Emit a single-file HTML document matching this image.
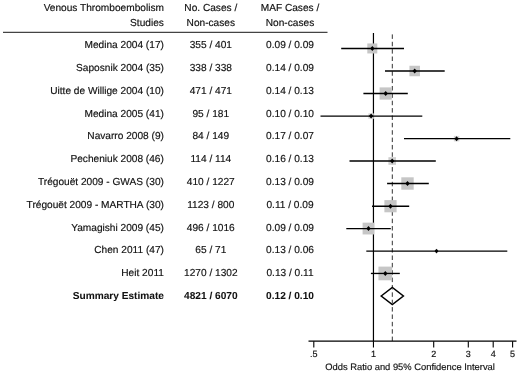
<!DOCTYPE html>
<html><head><meta charset="utf-8"><title>Forest plot</title>
<style>
html,body{margin:0;padding:0;background:#fff;}
body{width:520px;height:373px;overflow:hidden;}
svg{display:block;filter:grayscale(1);}
text{font-family:"Liberation Sans",sans-serif;font-size:10.15px;fill:#111;stroke:#111;stroke-width:0.16px;text-rendering:geometricPrecision;}
.b{font-weight:bold;stroke-width:0.06px;}
.e{text-anchor:end;}
.m{text-anchor:middle;}
</style></head><body>
<svg width="520" height="373" viewBox="0 0 520 373">
<rect width="520" height="373" fill="#fff"/>
<text class="e" x="163.9" y="11">Venous Thromboembolism</text>
<text class="e" x="163.9" y="26">Studies</text>
<text class="m" x="210.8" y="11">No. Cases /</text>
<text class="m" x="210.8" y="26">Non-cases</text>
<text class="m" x="290.0" y="11">MAF Cases /</text>
<text class="m" x="290.0" y="26">Non-cases</text>
<line x1="3" y1="32.3" x2="327.5" y2="32.3" stroke="#444" stroke-width="1.2"/>
<line x1="373.45" y1="33" x2="373.45" y2="341.5" stroke="#000" stroke-width="1.2"/>
<line x1="392.3" y1="34.4" x2="392.3" y2="341.5" stroke="#333" stroke-width="1" stroke-dasharray="4.5 2.87"/>
<line x1="308.5" y1="341.2" x2="516.5" y2="341.2" stroke="#000" stroke-width="1.2"/>
<line x1="313.8" y1="341.2" x2="313.8" y2="347.6" stroke="#000" stroke-width="1.1"/>
<text class="m" x="313.8" y="357" style="font-size:9px">.5</text>
<line x1="373.45" y1="341.2" x2="373.45" y2="347.6" stroke="#000" stroke-width="1.1"/>
<text class="m" x="373.45" y="357" style="font-size:9px">1</text>
<line x1="433.7" y1="341.2" x2="433.7" y2="347.6" stroke="#000" stroke-width="1.1"/>
<text class="m" x="433.7" y="357" style="font-size:9px">2</text>
<line x1="468.3" y1="341.2" x2="468.3" y2="347.6" stroke="#000" stroke-width="1.1"/>
<text class="m" x="468.3" y="357" style="font-size:9px">3</text>
<line x1="493.2" y1="341.2" x2="493.2" y2="347.6" stroke="#000" stroke-width="1.1"/>
<text class="m" x="493.2" y="357" style="font-size:9px">4</text>
<line x1="512.6" y1="341.2" x2="512.6" y2="347.6" stroke="#000" stroke-width="1.1"/>
<text class="m" x="512.6" y="357" style="font-size:9px">5</text>
<text class="m" x="410.1" y="370" style="font-size:9.37px">Odds Ratio and 95% Confidence Interval</text>
<text class="e" x="163.9" y="48">Medina 2004 (17)</text>
<text class="m" x="210.8" y="48">355 / 401</text>
<text class="m" x="290.0" y="48">0.09 / 0.09</text>
<rect x="367.30" y="43.45" width="10.0" height="10.0" fill="#c6c6c6"/>
<line x1="341.2" y1="48.45" x2="404.0" y2="48.45" stroke="#000" stroke-width="1.35"/>
<path d="M370.10 48.45 L372.30 45.95 L374.50 48.45 L372.30 50.95Z" fill="#000"/>
<text class="e" x="163.9" y="71">Saposnik 2004 (35)</text>
<text class="m" x="210.8" y="71">338 / 338</text>
<text class="m" x="290.0" y="71">0.14 / 0.09</text>
<rect x="409.45" y="65.75" width="10.5" height="10.5" fill="#c6c6c6"/>
<line x1="385.0" y1="71.00" x2="444.7" y2="71.00" stroke="#000" stroke-width="1.35"/>
<path d="M412.50 71.00 L414.70 68.50 L416.90 71.00 L414.70 73.50Z" fill="#000"/>
<text class="e" x="163.9" y="94">Uitte de Willige 2004 (10)</text>
<text class="m" x="210.8" y="94">471 / 471</text>
<text class="m" x="290.0" y="94">0.14 / 0.13</text>
<rect x="379.60" y="87.40" width="12.2" height="12.2" fill="#c6c6c6"/>
<line x1="363.4" y1="93.50" x2="407.8" y2="93.50" stroke="#000" stroke-width="1.35"/>
<path d="M383.50 93.50 L385.70 91.00 L387.90 93.50 L385.70 96.00Z" fill="#000"/>
<text class="e" x="163.9" y="117">Medina 2005 (41)</text>
<text class="m" x="210.8" y="117">95 / 181</text>
<text class="m" x="290.0" y="117">0.10 / 0.10</text>
<rect x="368.35" y="113.35" width="5.5" height="5.5" fill="#d6d6d6"/>
<line x1="320.5" y1="116.10" x2="422.3" y2="116.10" stroke="#000" stroke-width="1.35"/>
<path d="M368.90 116.10 L371.10 113.60 L373.30 116.10 L371.10 118.60Z" fill="#000"/>
<text class="e" x="163.9" y="139">Navarro 2008 (9)</text>
<text class="m" x="210.8" y="139">84 / 149</text>
<text class="m" x="290.0" y="139">0.17 / 0.07</text>
<rect x="453.85" y="135.90" width="5.5" height="5.5" fill="#d6d6d6"/>
<line x1="404.0" y1="138.65" x2="510.3" y2="138.65" stroke="#000" stroke-width="1.35"/>
<path d="M454.40 138.65 L456.60 136.15 L458.80 138.65 L456.60 141.15Z" fill="#000"/>
<text class="e" x="163.9" y="162">Pecheniuk 2008 (46)</text>
<text class="m" x="210.8" y="162">114 / 114</text>
<text class="m" x="290.0" y="162">0.16 / 0.13</text>
<rect x="388.40" y="157.20" width="7.6" height="7.6" fill="#cdcdcd"/>
<line x1="349.5" y1="161.00" x2="435.8" y2="161.00" stroke="#000" stroke-width="1.35"/>
<path d="M390.00 161.00 L392.20 158.50 L394.40 161.00 L392.20 163.50Z" fill="#000"/>
<text class="e" x="163.9" y="185">Trégouët 2009 - GWAS (30)</text>
<text class="m" x="210.8" y="185">410 / 1227</text>
<text class="m" x="290.0" y="185">0.13 / 0.09</text>
<rect x="401.30" y="177.30" width="12.4" height="12.4" fill="#c6c6c6"/>
<line x1="387.1" y1="183.50" x2="428.8" y2="183.50" stroke="#000" stroke-width="1.35"/>
<path d="M405.30 183.50 L407.50 181.00 L409.70 183.50 L407.50 186.00Z" fill="#000"/>
<text class="e" x="163.9" y="208">Trégouët 2009 - MARTHA (30)</text>
<text class="m" x="210.8" y="208">1123 / 800</text>
<text class="m" x="290.0" y="208">0.11 / 0.09</text>
<rect x="384.40" y="200.10" width="12.2" height="12.2" fill="#c6c6c6"/>
<line x1="372.0" y1="206.20" x2="409.2" y2="206.20" stroke="#000" stroke-width="1.35"/>
<path d="M388.30 206.20 L390.50 203.70 L392.70 206.20 L390.50 208.70Z" fill="#000"/>
<text class="e" x="163.9" y="231">Yamagishi 2009 (45)</text>
<text class="m" x="210.8" y="231">496 / 1016</text>
<text class="m" x="290.0" y="231">0.09 / 0.09</text>
<rect x="362.60" y="222.65" width="11.8" height="11.8" fill="#c6c6c6"/>
<line x1="346.3" y1="228.55" x2="390.8" y2="228.55" stroke="#000" stroke-width="1.35"/>
<path d="M366.30 228.55 L368.50 226.05 L370.70 228.55 L368.50 231.05Z" fill="#000"/>
<text class="e" x="163.9" y="253">Chen 2011 (47)</text>
<text class="m" x="210.8" y="253">65 / 71</text>
<text class="m" x="290.0" y="253">0.13 / 0.06</text>
<rect x="435.00" y="249.60" width="3" height="3" fill="#d6d6d6"/>
<line x1="366.3" y1="251.10" x2="507.3" y2="251.10" stroke="#000" stroke-width="1.35"/>
<path d="M434.60 251.10 L436.50 248.80 L438.40 251.10 L436.50 253.40Z" fill="#000"/>
<text class="e" x="163.9" y="276">Heit 2011</text>
<text class="m" x="210.8" y="276">1270 / 1302</text>
<text class="m" x="290.0" y="276">0.13 / 0.11</text>
<rect x="378.45" y="266.60" width="13.7" height="13.7" fill="#c6c6c6"/>
<line x1="370.9" y1="273.45" x2="399.8" y2="273.45" stroke="#000" stroke-width="1.35"/>
<path d="M383.10 273.45 L385.30 270.95 L387.50 273.45 L385.30 275.95Z" fill="#000"/>
<text class="e b" x="163.9" y="299">Summary Estimate</text>
<text class="m b" x="210.8" y="299">4821 / 6070</text>
<text class="m b" x="290.0" y="299">0.12 / 0.10</text>
<path d="M381.2 296.0 L392.3 287.4 L403.4 296.0 L392.3 304.6Z" fill="#fff" stroke="#000" stroke-width="1.5"/>
<line x1="392.3" y1="34.4" x2="392.3" y2="341.5" stroke="#333" stroke-width="1" stroke-dasharray="4.5 2.87" clip-path="url(#dc)"/>
<clipPath id="dc"><path d="M382.4 296.0 L392.3 288.4 L402.2 296.0 L392.3 303.6Z"/></clipPath>
</svg></body></html>
